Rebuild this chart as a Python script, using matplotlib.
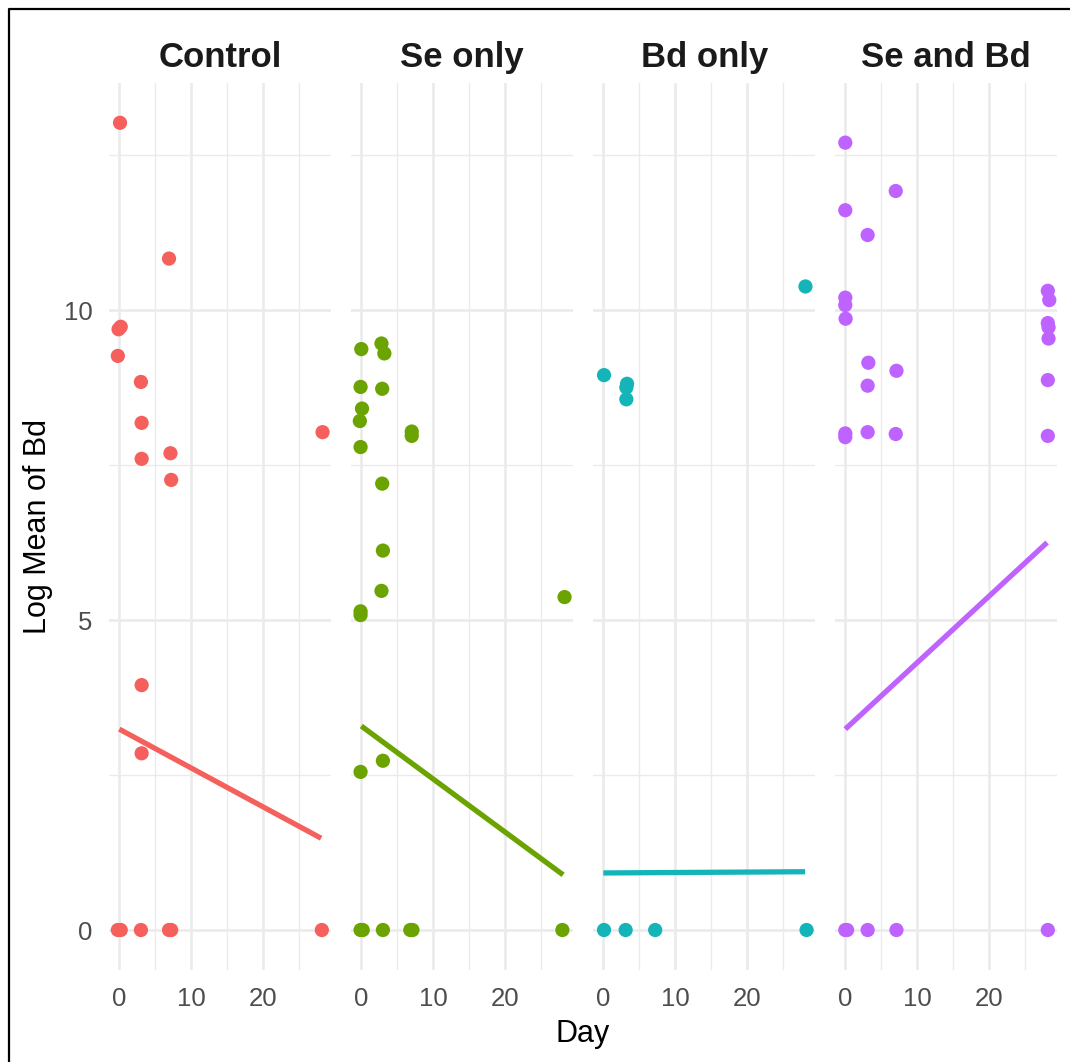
import matplotlib
matplotlib.use("Agg")
import matplotlib.pyplot as plt
from matplotlib.lines import Line2D

plt.rcParams['font.family'] = ['Liberation Sans', 'DejaVu Sans']

# Facet names and colours (ggplot hue palette as rendered).
panels = ["Control", "Se only", "Bd only", "Se and Bd"]
colors = ["#F5605D", "#6BA300", "#14B4B9", "#BE63FF"]

# Points: day (with the jitter seen) and log mean of Bd.
control_day = [0.1, 6.9, -0.1, 0.2, -0.2, 3.0, 3.1, 3.1, 7.1, 7.2, 28.2,
               3.1, 3.1, -0.2, 0.2, 3.0, 6.9, 7.2, 28.1]
control_log = [13.02, 10.83, 9.69, 9.73, 9.26, 8.84, 8.18, 7.60, 7.69, 7.26, 8.03,
               3.95, 2.85, 0.0, 0.0, 0.0, 0.0, 0.0, 0.0]

se_day = [0.0, 2.8, 3.2, -0.1, 2.9, 0.1, -0.2, 7.0, 7.0, -0.1, 2.9,
          3.0, 2.8, 28.2, -0.1, -0.1, -0.1, 3.0,
          -0.1, 0.2, 3.0, 6.8, 7.1, 27.9]
se_log = [9.37, 9.46, 9.30, 8.76, 8.73, 8.41, 8.21, 8.04, 7.97, 7.79, 7.20,
          6.12, 5.47, 5.37, 5.14, 5.08, 2.55, 2.73,
          0.0, 0.0, 0.0, 0.0, 0.0, 0.0]

bd_day = [28.05, 0.1, 3.3, 3.2, 3.2, 0.1, 3.1, 7.2, 28.2]
bd_log = [10.38, 8.95, 8.81, 8.75, 8.56, 0.0, 0.0, 0.0, 0.0]

sebd_day = [0.0, 7.0, 0.0, 3.1, 0.0, 0.0, 0.05, 28.1, 28.3, 28.1, 28.2, 28.2,
            3.2, 7.1, 3.1, 28.1, 0.0, 0.0, 3.1, 7.0, 28.1,
            0.0, 0.25, 3.1, 7.1, 28.1]
sebd_log = [12.70, 11.92, 11.61, 11.21, 10.20, 10.08, 9.86, 10.31, 10.16, 9.79, 9.72, 9.54,
            9.15, 9.02, 8.78, 8.87, 8.01, 7.95, 8.03, 8.00, 7.97,
            0.0, 0.0, 0.0, 0.0, 0.0]

days = [control_day, se_day, bd_day, sebd_day]
logs = [control_log, se_log, bd_log, sebd_log]

# Linear fit lines, read at their two ends.
fit_days = [0, 28]
fit_start = [3.24, 3.29, 0.92, 3.24]
fit_end = [1.48, 0.89, 0.94, 6.25]

W, H = 1070, 1062
fig = plt.figure(figsize=(W / 100, H / 100), dpi=100)

for i, name in enumerate(panels):
    ax = fig.add_axes([(109.2 + 242 * i) / W, (H - 970.3) / H, 222 / W, 887.8 / H])
    ax.scatter(days[i], logs[i], s=105, color=colors[i], edgecolors='none', zorder=3)
    ax.plot(fit_days, [fit_start[i], fit_end[i]], color=colors[i], lw=3.8,
            solid_capstyle='butt', zorder=4)
    ax.set_xlim(-1.4, 29.4)
    ax.set_ylim(-0.65, 13.67)
    ax.set_xticks([0, 10, 20])
    ax.set_xticks([5, 15, 25], minor=True)
    ax.set_yticks([0, 5, 10])
    ax.set_yticks([2.5, 7.5, 12.5], minor=True)
    ax.grid(which='major', color='#EBEBEB', lw=1.9)
    ax.grid(which='minor', color='#EBEBEB', lw=1.0)
    ax.set_axisbelow(True)
    for s in ax.spines.values():
        s.set_visible(False)
    ax.tick_params(which='both', length=0, labelsize=18.5, labelcolor='#4D4D4D', pad=12)
    if i > 0:
        ax.tick_params(axis='y', labelleft=False)
    ax.set_title(name, fontsize=25, fontweight='bold', pad=11.5, color='#1A1A1A')

fig.text(583 / W, 1 - 1042 / H, "Day", fontsize=22, ha='center', va='baseline')
fig.text(38 / W, 1 - 526 / H, "Log Mean of Bd", fontsize=22, ha='center',
         va='center', rotation=90)

# Black frame on the left and top of the picture.
fig.add_artist(Line2D([8.5 / W, 8.5 / W, 1.0], [0.0, 1 - 8.5 / H, 1 - 8.5 / H],
                      color='black', lw=1.6, transform=fig.transFigure))

fig.savefig("out.png", dpi=100)
